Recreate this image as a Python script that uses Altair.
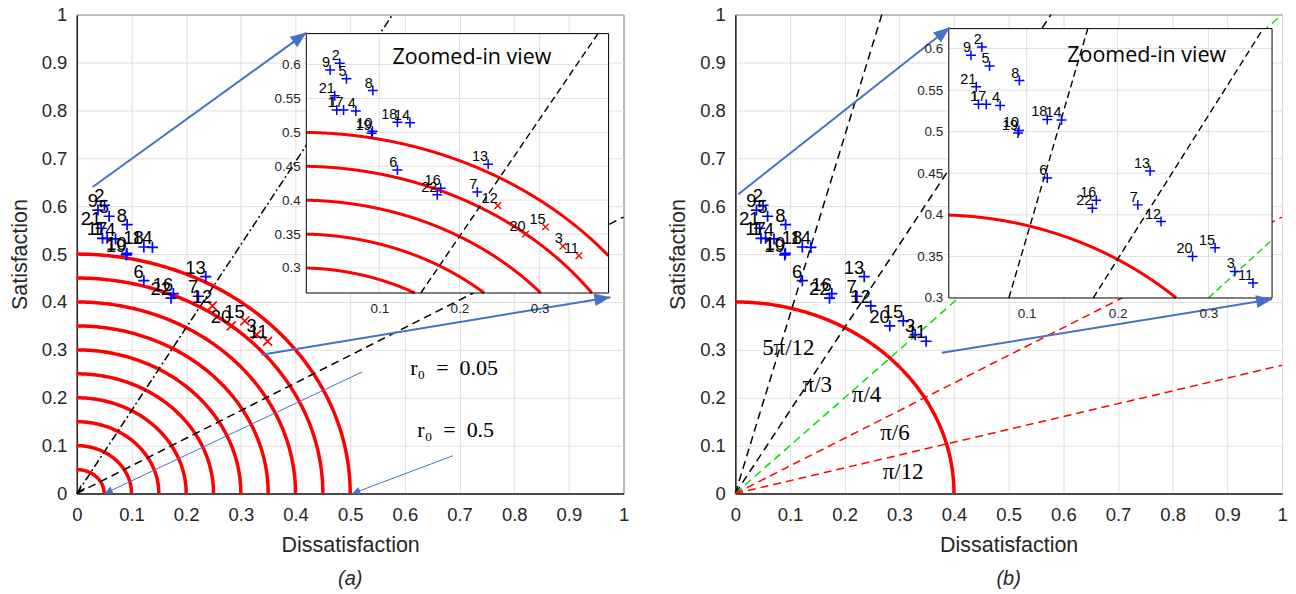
import altair as alt
import numpy as np
import pandas as pd

# ---------------- data ----------------
IDS = list(range(1, 23))
DISSAT = [0.047, 0.0507, 0.329, 0.0708, 0.0591, 0.1226, 0.2223, 0.092, 0.0387, 0.0915, 0.349,
          0.2478, 0.2358, 0.1383, 0.3073, 0.1766, 0.0555, 0.1226, 0.0905, 0.2825, 0.0445, 0.1723]
SAT = [0.533, 0.602, 0.332, 0.5316, 0.579, 0.4444, 0.412, 0.5616, 0.592, 0.5015, 0.318,
       0.392, 0.4528, 0.514, 0.3604, 0.4176, 0.533, 0.5148, 0.4985, 0.35, 0.554, 0.408]
RED_IDS_A = [3, 11, 12, 15, 20]

RADII_A = [0.05, 0.10, 0.15, 0.20, 0.25, 0.30, 0.35, 0.40, 0.45, 0.50]
RADII_B = [0.40]

# ray angles as fractions of pi
RAYS_A_DASH = [1 / 6]
RAYS_A_DASHDOT = [1 / 3]
RAYS_A_INSET = [1 / 3]
RAYS_B = [5 / 12, 1 / 3, 1 / 4, 1 / 6, 1 / 12]
RAYS_B_COLOR = ["black", "black", "#00e000", "#ff0000", "#ff0000"]
RAYS_B_INSET = [5 / 12, 1 / 3, 1 / 4]
RAYS_B_INSET_COLOR = ["black", "black", "#00e000"]

ANGLE_LABELS = ["5\u03c0/12", "\u03c0/3", "\u03c0/4", "\u03c0/6", "\u03c0/12"]
ANGLE_LABEL_X = [0.097, 0.150, 0.240, 0.292, 0.307]
ANGLE_LABEL_Y = [0.304, 0.227, 0.206, 0.127, 0.044]

R0_LABELS = ["r\u2080\u2002=\u20020.05", "r\u2080\u2002=\u20020.5"]
R0_X = [0.690, 0.693]
R0_Y = [0.262, 0.133]

ORIGIN_HEAD_X = [0.004]
ORIGIN_HEAD_Y = [0.004]
ORIGIN_HEAD_ANGLE = [218]

MAIN_TICKS = [0, 0.1, 0.2, 0.3, 0.4, 0.5, 0.6, 0.7, 0.8, 0.9, 1]
INSET_XTICKS = [0.1, 0.2, 0.3]
INSET_YTICKS = [0.3, 0.35, 0.4, 0.45, 0.5, 0.55, 0.6]

INSET_A_X = [0.009, 0.386]
INSET_A_Y = [0.263, 0.6456]
INSET_B_X = [0.0143, 0.370]
INSET_B_Y = [0.300, 0.624]

TITLE_INSET = "Zoomed-in view"
TITLE_A_POS = [0.2155, 0.610]
TITLE_B_POS = [0.232, 0.5916]

THICK_A_X0 = [0.029, 0.338]
THICK_A_Y0 = [0.640, 0.290]
THICK_A_X1 = [0.420, 0.976]
THICK_A_Y1 = [0.9625, 0.410]
THIN_A_X0 = [0.522, 0.688]
THIN_A_Y0 = [0.254, 0.079]
THIN_A_X1 = [0.051, 0.504]
THIN_A_Y1 = [0.0, 0.0]
THICK_B_X0 = [0.0055, 0.378]
THICK_B_Y0 = [0.625, 0.294]
THICK_B_X1 = [0.392, 0.982]
THICK_B_Y1 = [0.973, 0.406]

# ---------------- styling ----------------
W, H = 548, 480
FONT = "Liberation Sans"
SERIF = "Liberation Serif, DejaVu Serif"
AXC = "#262626"
GRID = "#dfdfdf"
BLUE = "#0000ff"
RED = "#ff0000"
ARROW = "#4472c4"
PLUS = "M-1,0L1,0M0,-1L0,1"
CROSS = "M-1,-1L1,1M-1,1L1,-1"
HEAD = "M0,0L-0.8,2L0.8,2Z"
HEAD_THIN = "M0,0L-1,2L1,2Z"
VHEAD = "M-0.8,2L0,0L0.8,2"

MAIN_SCALE = alt.Scale(domain=[0, 1], nice=False, zero=False)


def main_axis(title, lp):
    return alt.Axis(values=MAIN_TICKS, format="~g", title=title, ticks=False, grid=True,
                    gridColor=GRID, gridWidth=1, domainColor=AXC, domainWidth=1.5,
                    labelFont=FONT, labelFontSize=18.5, labelColor=AXC, labelPadding=lp,
                    titleFont=FONT, titleFontSize=21.5, titleColor=AXC, titleFontWeight="normal",
                    titlePadding=11 if title.startswith("D") else 10,
                    labelFlush=False, labelOverlap=False)


def mx(f, **kw):
    return alt.X(f, type="quantitative", scale=MAIN_SCALE, axis=main_axis("Dissatisfaction", 12), **kw)


def my(f, **kw):
    return alt.Y(f, type="quantitative", scale=MAIN_SCALE, axis=main_axis("Satisfaction", 10), **kw)


def ox(f):
    return alt.X(f, type="quantitative", scale=MAIN_SCALE, axis=None)


def oy(f):
    return alt.Y(f, type="quantitative", scale=MAIN_SCALE, axis=None)


def inset_enc(bx, by, xr, yr):
    sx = alt.Scale(domain=bx, range=xr, nice=False, zero=False)
    sy = alt.Scale(domain=by, range=yr, nice=False, zero=False)
    ax = alt.Axis(values=INSET_XTICKS, format="~g", orient="bottom", offset=-(H - yr[0]),
                  title=None, grid=False, ticks=False, domain=False, labelFont=FONT,
                  labelFontSize=13.5, labelColor=AXC, labelPadding=9, zindex=1,
                  labelFlush=False, labelOverlap=False)
    ay = alt.Axis(values=INSET_YTICKS, format="~g", orient="left", offset=-xr[0],
                  title=None, grid=False, ticks=False, domain=False, labelFont=FONT,
                  labelFontSize=13.5, labelColor=AXC, labelPadding=6, zindex=1,
                  labelFlush=False, labelOverlap=False)

    def ix(f):
        return alt.X(f, type="quantitative", scale=sx, axis=ax)

    def iy(f):
        return alt.Y(f, type="quantitative", scale=sy, axis=ay)
    return ix, iy


def arc_df(radii, box=None, n=181):
    rows = []
    for r in radii:
        th = np.linspace(0, np.pi / 2, n)
        xs, ys = r * np.cos(th), r * np.sin(th)
        for i, (a, b) in enumerate(zip(xs, ys)):
            if box is not None and not (box[0][0] <= a <= box[0][1] and box[1][0] <= b <= box[1][1]):
                continue
            rows.append({"r": r, "i": i, "x": a, "y": b})
    return pd.DataFrame(rows)


def ray_df(fracs, colors=None, box=([0, 1], [0, 1])):
    rows = []
    for k, f in enumerate(fracs):
        th = f * np.pi
        c, s = np.cos(th), np.sin(th)
        t0 = max(box[0][0] / c, box[1][0] / s, 0)
        t1 = min(box[0][1] / c, box[1][1] / s)
        if t1 <= t0:
            continue
        rows.append({"x0": t0 * c, "y0": t0 * s, "x1": t1 * c, "y1": t1 * s,
                     "col": colors[k] if colors else "black"})
    return pd.DataFrame(rows)


def arrow_df(x0, y0, x1, y1):
    df = pd.DataFrame({"x0": x0, "y0": y0, "x1": x1, "y1": y1})
    df["ang"] = np.degrees(np.arctan2((df.x1 - df.x0) * W, (df.y1 - df.y0) * H)) % 360
    return df


pts = pd.DataFrame({"id": IDS, "x": DISSAT, "y": SAT})
pts["lab"] = pts["id"].astype(str)
pts_blue_a = pts[~pts["id"].isin(RED_IDS_A)]
pts_red_a = pts[pts["id"].isin(RED_IDS_A)]


def point_layer(df, X, Y, shape, color, size, sw=1.7):
    return alt.Chart(df).mark_point(shape=shape, filled=False, size=size, strokeWidth=sw,
                                    color=color, opacity=1).encode(x=X("x"), y=Y("y"))


def label_layer(df, X, Y, fs):
    return alt.Chart(df).mark_text(align="right", baseline="alphabetic", dx=0, dy=-3,
                                   font=FONT, fontSize=fs, color="black").encode(
        x=X("x"), y=Y("y"), text="lab:N")


def arcs_layer(df, X, Y, sw):
    return alt.Chart(df).mark_line(color=RED, strokeWidth=sw, strokeCap="butt").encode(
        x=X("x"), y=Y("y"), detail="r:N", order="i:Q")


def rays_layer(df, X, Y, dash, sw=1.5):
    return alt.Chart(df).mark_rule(strokeDash=dash, strokeWidth=sw).encode(
        x=X("x0"), y=Y("y0"), x2="x1", y2="y1", color=alt.Color("col:N", scale=None))


def arrows_layer(df, sw, head, size):
    line = alt.Chart(df).mark_rule(color=ARROW, strokeWidth=sw).encode(
        x=ox("x0"), y=oy("y0"), x2="x1", y2="y1")
    tip = alt.Chart(df).mark_point(shape=head, filled=True, size=size, color=ARROW, opacity=1,
                                   strokeWidth=0).encode(
        x=ox("x1"), y=oy("y1"), angle=alt.Angle("ang:Q", scale=None))
    return [line, tip]


def inset_layers(bx, by, xr, yr, arcs_radii, rays, ray_cols, title_pos, red_ids):
    ix, iy = inset_enc(bx, by, xr, yr)
    box = (bx, by)
    frame_df = pd.DataFrame({"x0": [bx[0]], "x1": [bx[1]], "y0": [by[0]], "y1": [by[1]]})
    bg = alt.Chart(frame_df).mark_rect(fill="white").encode(
        x=ix("x0"), x2="x1", y=iy("y0"), y2="y1")
    vg = pd.DataFrame({"t": INSET_XTICKS, "a": by[0], "b": by[1]})
    hg = pd.DataFrame({"t": [v for v in INSET_YTICKS if by[0] < v < by[1]], "a": bx[0], "b": bx[1]})
    vgrid = alt.Chart(vg).mark_rule(color=GRID, strokeWidth=1).encode(x=ix("t"), y=iy("a"), y2="b")
    hgrid = alt.Chart(hg).mark_rule(color=GRID, strokeWidth=1).encode(y=iy("t"), x=ix("a"), x2="b")
    arcs = arcs_layer(arc_df(arcs_radii, box=box, n=3000), ix, iy, 3)
    rays_l = rays_layer(ray_df(rays, ray_cols, box=box), ix, iy, [7, 4], 1.4)
    blue = pts[~pts["id"].isin(red_ids)]
    red = pts[pts["id"].isin(red_ids)]
    layers = [bg, vgrid, hgrid, arcs, rays_l,
              point_layer(blue, ix, iy, PLUS, BLUE, 100, 1.5)]
    if len(red):
        layers.append(point_layer(red, ix, iy, CROSS, RED, 45, 1.4))
    layers.append(label_layer(pts, ix, iy, 14.5))
    tdf = pd.DataFrame({"x": [title_pos[0]], "y": [title_pos[1]], "t": [TITLE_INSET]})
    layers.append(alt.Chart(tdf).mark_text(font="Open Sans", fontSize=21.5, color="black",
                                           align="center", baseline="middle").encode(
        x=ix("x"), y=iy("y"), text="t:N"))
    layers.append(alt.Chart(frame_df).mark_rect(fillOpacity=0, stroke="black", strokeWidth=1).encode(
        x=ix("x0"), x2="x1", y=iy("y0"), y2="y1"))
    return alt.layer(*layers)


def caption(t):
    return alt.TitleParams(t, orient="bottom", font=FONT, fontSize=20, fontStyle="italic",
                           fontWeight="normal", color=AXC, offset=13, anchor="middle")


# ---------------- panel (a) ----------------
main_a = alt.layer(
    arcs_layer(arc_df(RADII_A), mx, my, 3.5),
    rays_layer(ray_df(RAYS_A_DASH), mx, my, [8, 5]),
    rays_layer(ray_df(RAYS_A_DASHDOT), mx, my, [8, 3, 2, 3]),
    point_layer(pts_blue_a, mx, my, PLUS, BLUE, 125),
    point_layer(pts_red_a, mx, my, CROSS, RED, 80),
    label_layer(pts, mx, my, 18.5),
    alt.Chart(pd.DataFrame({"x": R0_X, "y": R0_Y, "t": R0_LABELS})).mark_text(
        font=SERIF, fontSize=22, color="black", align="center", baseline="middle").encode(
        x=mx("x"), y=my("y"), text="t:N"),
    alt.Chart(pd.DataFrame({"x": ORIGIN_HEAD_X, "y": ORIGIN_HEAD_Y, "a": ORIGIN_HEAD_ANGLE})).mark_point(
        shape=VHEAD, filled=False, size=36, strokeWidth=1.3, color="black", opacity=1).encode(
        x=mx("x"), y=my("y"), angle=alt.Angle("a:Q", scale=None)),
)
inset_a = inset_layers(INSET_A_X, INSET_A_Y, [230, 533], [279, 19], RADII_A, RAYS_A_INSET,
                       None, TITLE_A_POS, RED_IDS_A)
over_a = alt.layer(
    *arrows_layer(arrow_df(THICK_A_X0, THICK_A_Y0, THICK_A_X1, THICK_A_Y1), 2, HEAD, 256),
    *arrows_layer(arrow_df(THIN_A_X0, THIN_A_Y0, THIN_A_X1, THIN_A_Y1), 1, HEAD_THIN, 64),
)
panel_a = alt.layer(main_a, inset_a, over_a).resolve_scale(
    x="independent", y="independent").properties(width=W, height=H, title=caption("(a)"))

# ---------------- panel (b) ----------------
main_b = alt.layer(
    arcs_layer(arc_df(RADII_B), mx, my, 3.5),
    rays_layer(ray_df(RAYS_B, RAYS_B_COLOR), mx, my, [8, 5]),
    point_layer(pts, mx, my, PLUS, BLUE, 125),
    label_layer(pts, mx, my, 18.5),
    alt.Chart(pd.DataFrame({"x": ANGLE_LABEL_X, "y": ANGLE_LABEL_Y, "t": ANGLE_LABELS})).mark_text(
        font=SERIF, fontSize=23, color="black", align="center", baseline="middle").encode(
        x=mx("x"), y=my("y"), text="t:N"),
)
inset_b = inset_layers(INSET_B_X, INSET_B_Y, [214, 538], [284, 14], RADII_B, RAYS_B_INSET,
                       RAYS_B_INSET_COLOR, TITLE_B_POS, [])
over_b = alt.layer(
    *arrows_layer(arrow_df(THICK_B_X0, THICK_B_Y0, THICK_B_X1, THICK_B_Y1), 2, HEAD, 256),
)
panel_b = alt.layer(main_b, inset_b, over_b).resolve_scale(
    x="independent", y="independent").properties(width=W, height=H, title=caption("(b)"))

chart = alt.hconcat(panel_a, panel_b, spacing=37).configure_view(
    stroke=AXC, strokeWidth=1).properties(
    padding={"left": 8, "top": 4, "right": 8, "bottom": 0}, background="white")

chart.save("out.html", embed_options={"renderer": "svg", "actions": False})
